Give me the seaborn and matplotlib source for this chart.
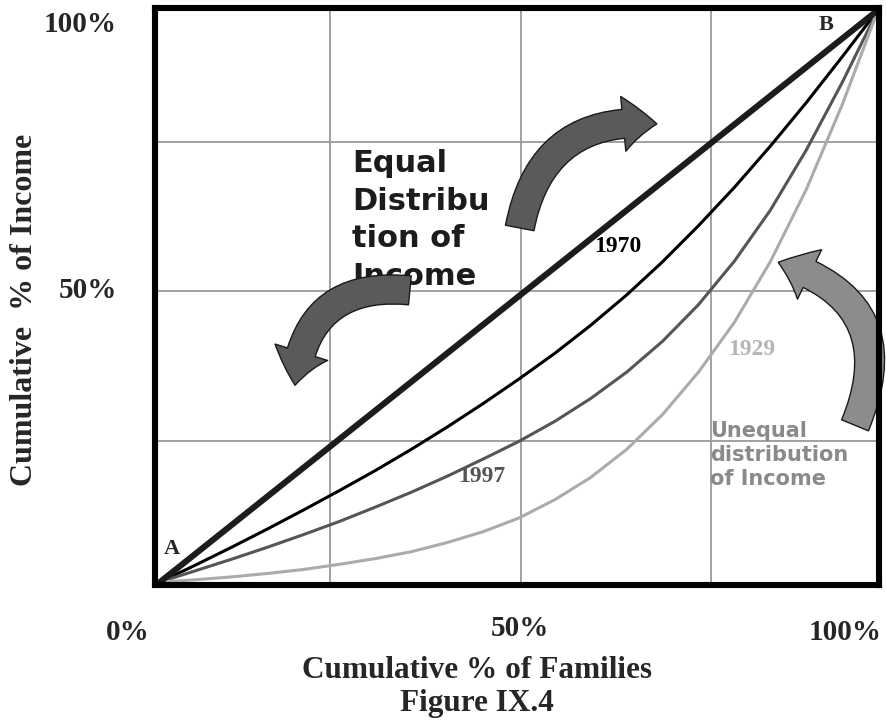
import matplotlib
matplotlib.use('Agg')
import matplotlib.pyplot as plt
import pandas as pd
import seaborn as sns

# cumulative % of families (x) and cumulative % of income (y)
families = [0, 5, 10, 15, 20, 25, 30, 35, 40, 45, 50, 55, 60, 65, 70, 75, 80, 85, 90, 95, 100]
income_1970 = [0, 3.0, 6.1, 9.3, 12.6, 16.0, 19.5, 23.2, 27.1, 31.2, 35.5, 40.0, 44.9, 50.2, 56.0,
               62.3, 69.0, 76.2, 83.8, 91.8, 100]
income_1997 = [0, 2.0, 4.0, 6.1, 8.3, 10.6, 13.1, 15.7, 18.5, 21.5, 24.6, 28.1, 32.1, 36.7, 42.1,
               48.5, 56.1, 65.0, 75.5, 87.3, 100]
income_1929 = [0, 0.4, 0.9, 1.5, 2.2, 3.1, 4.1, 5.3, 6.9, 8.8, 11.2, 14.4, 18.3, 23.2, 29.3,
               36.7, 45.4, 56.0, 68.6, 83.4, 100]
equal_line = [0, 100]

grid_x = [23.7, 50.3, 76.7]
grid_y = [24.7, 50.8, 77.0]

W, H = 886, 724
SERIF = ['Liberation Serif', 'DejaVu Serif']
SANS = ['DejaVu Sans']

sns.set_theme(style='white')
plt.rcParams['font.family'] = SERIF

fig = plt.figure(figsize=(W / 100, H / 100), dpi=100)
ax = fig.add_axes([155 / W, 1 - 585 / H, 724 / W, 577 / H])


def px(x, y):
    # pixel position in the picture -> figure fraction
    return x / W, 1 - y / H


df = pd.DataFrame({'families': families, '1970': income_1970,
                   '1997': income_1997, '1929': income_1929})

for g in grid_x:
    ax.axvline(g, color='#9a9a9a', lw=1.3, zorder=1)
for g in grid_y:
    ax.axhline(g, color='#9a9a9a', lw=1.3, zorder=1)

sns.lineplot(x=equal_line, y=equal_line, color='#1c1c1c', lw=4.4, ax=ax, zorder=4)
sns.lineplot(data=df, x='families', y='1970', color='black', lw=2.2, ax=ax, zorder=3)
sns.lineplot(data=df, x='families', y='1997', color='#555555', lw=2.2, ax=ax, zorder=3)
sns.lineplot(data=df, x='families', y='1929', color='#ababab', lw=2.2, ax=ax, zorder=3)

ax.set_xlim(-0.7, 100.14)
ax.set_ylim(-0.52, 100.36)
ax.set_xticks([])
ax.set_yticks([])
ax.set_xlabel('')
ax.set_ylabel('')
for s in ax.spines.values():
    s.set_visible(True)
    s.set_color('black')
    s.set_linewidth(4.4)
    s.set_zorder(6)

# curved block arrows
arrow_specs = [
    ((50.1, 61.9), (69.2, 80.1), -0.45, '#5a5a5a'),
    ((34.8, 51.0), (18.8, 34.4), 0.5, '#5a5a5a'),
    ((96.8, 27.4), (86.1, 55.9), 0.55, '#8c8c8c'),
]
for tail, head, rad, col in arrow_specs:
    ax.annotate('', xy=head, xytext=tail, zorder=5, annotation_clip=False,
                arrowprops=dict(arrowstyle='simple,head_length=1.1,head_width=1.8,tail_width=0.95',
                                mutation_scale=22, connectionstyle='arc3,rad=%s' % rad,
                                fc=col, ec='#1a1a1a', lw=1, shrinkA=0, shrinkB=0))

# text inside the plot (below the arrows)
ax.text(*px(352, 285), 'Equal\nDistribu\ntion of\nIncome', transform=fig.transFigure,
        family=SANS, fontsize=22, fontweight='bold', color='#1c1c1c', linespacing=1.37,
        va='baseline', ha='left', zorder=2)
ax.text(*px(710, 485), 'Unequal\ndistribution\nof Income', transform=fig.transFigure,
        family=SANS, fontsize=15, fontweight='bold', color='#8a8a8a', linespacing=1.25,
        va='baseline', ha='left', zorder=2)
fig.text(*px(618, 247), '1970', fontsize=17, fontweight='bold', color='black',
         ha='center', va='center')
fig.text(*px(482, 477), '1997', fontsize=17, fontweight='bold', color='#555555',
         ha='center', va='center')
fig.text(*px(752, 349), '1929', fontsize=17, fontweight='bold', color='#b5b5b5',
         ha='center', va='center')
fig.text(*px(172, 549), 'A', fontsize=16, fontweight='bold', ha='center', va='center')
fig.text(*px(826, 25), 'B', fontsize=16, fontweight='bold', ha='center', va='center')

# axis value labels
fig.text(*px(80, 25), '100%', fontsize=21, fontweight='bold', ha='center', va='center')
fig.text(*px(88, 291), '50%', fontsize=21, fontweight='bold', ha='center', va='center')
fig.text(*px(128, 632), '0%', fontsize=21, fontweight='bold', ha='center', va='center')
fig.text(*px(520, 629), '50%', fontsize=21, fontweight='bold', ha='center', va='center')
fig.text(*px(845, 632), '100%', fontsize=21, fontweight='bold', ha='center', va='center')

fig.text(*px(25, 310), 'Cumulative  % of Income', fontsize=23, fontweight='bold',
         rotation=90, ha='center', va='center')
fig.text(*px(477, 670), 'Cumulative % of Families', fontsize=22.5, fontweight='bold',
         ha='center', va='center')
fig.text(*px(477, 703), 'Figure IX.4', fontsize=22.5, fontweight='bold',
         ha='center', va='center')

fig.savefig('out.png', dpi=100)
